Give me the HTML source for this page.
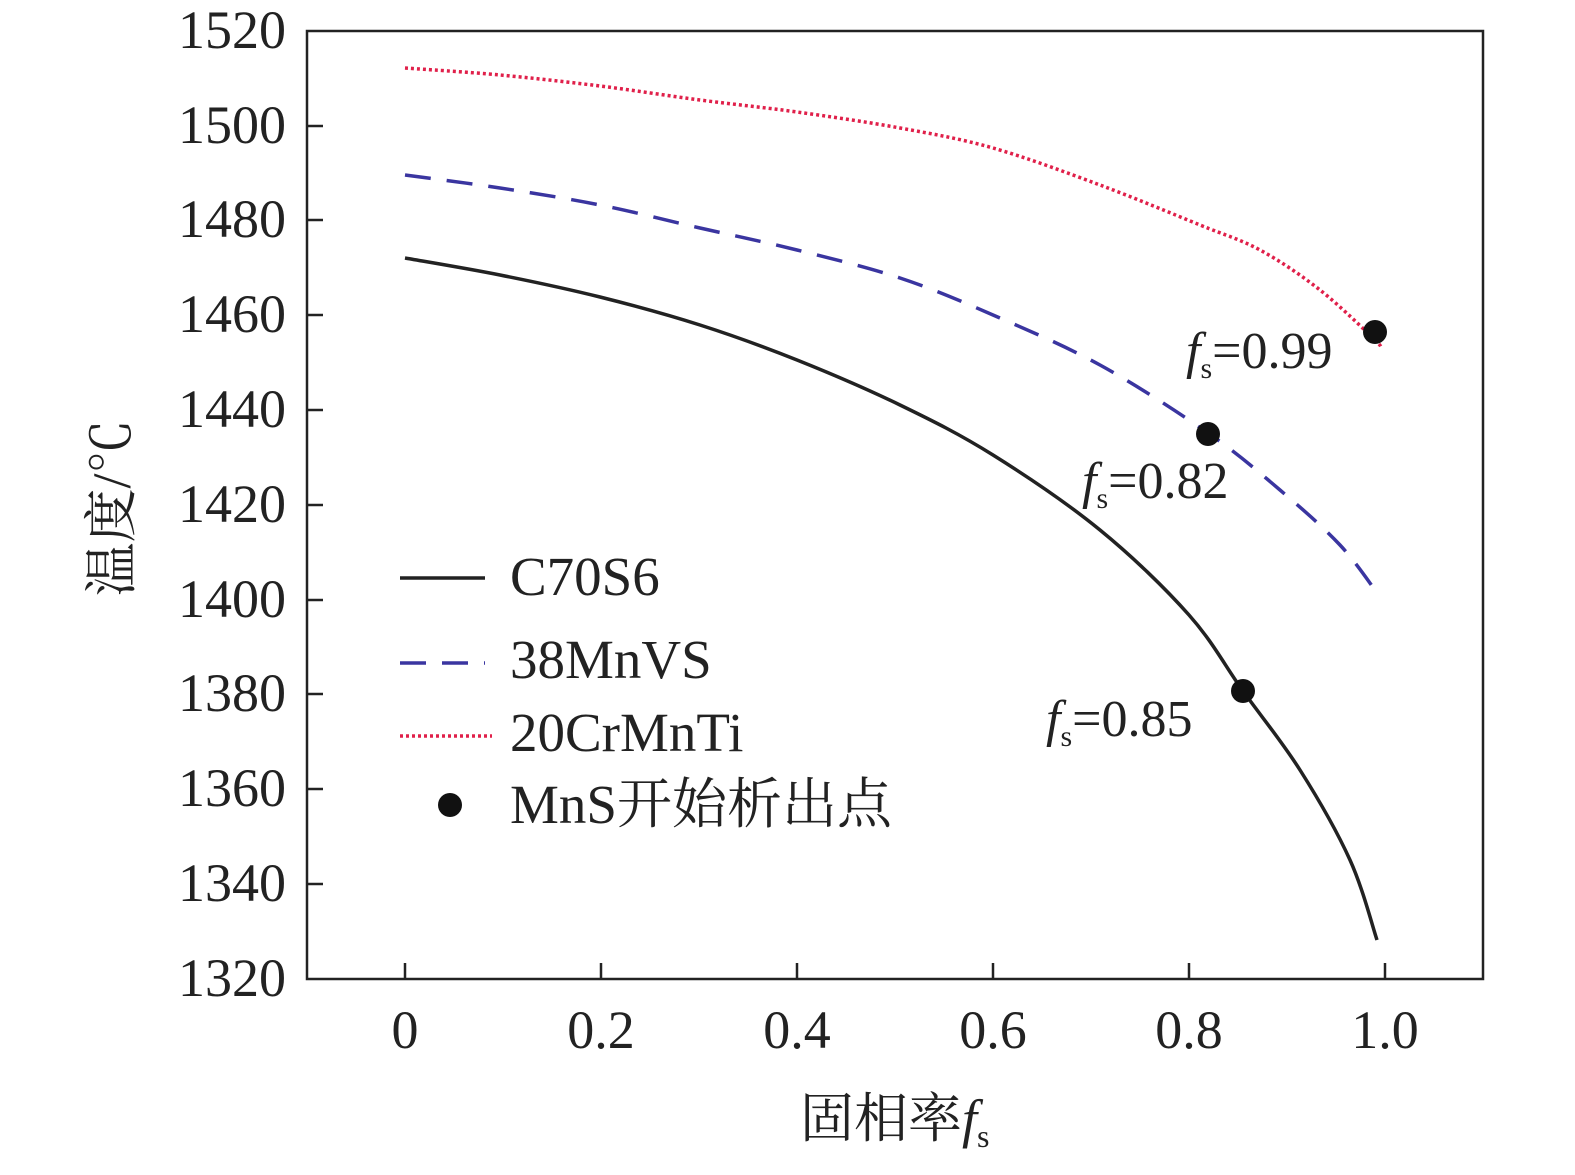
<!DOCTYPE html>
<html><head><meta charset="utf-8"><style>
html,body{margin:0;padding:0;background:#fff;}
svg text{font-family:"Liberation Serif","Noto Serif CJK SC",serif;fill:#222;}
</style></head><body>
<svg width="1575" height="1170" xmlns="http://www.w3.org/2000/svg">
<rect x="307" y="31" width="1176" height="948" fill="none" stroke="#222" stroke-width="2.5"/>
<g stroke="#222" stroke-width="2.5">
<line x1="405" y1="979" x2="405" y2="963"/><line x1="601" y1="979" x2="601" y2="963"/><line x1="797" y1="979" x2="797" y2="963"/><line x1="993" y1="979" x2="993" y2="963"/><line x1="1189" y1="979" x2="1189" y2="963"/><line x1="1385" y1="979" x2="1385" y2="963"/>
<line x1="307" y1="126" x2="323" y2="126"/><line x1="307" y1="220" x2="323" y2="220"/><line x1="307" y1="315" x2="323" y2="315"/><line x1="307" y1="410" x2="323" y2="410"/><line x1="307" y1="505" x2="323" y2="505"/><line x1="307" y1="600" x2="323" y2="600"/><line x1="307" y1="694" x2="323" y2="694"/><line x1="307" y1="789" x2="323" y2="789"/><line x1="307" y1="884" x2="323" y2="884"/>
</g>
<g font-size="54" text-anchor="end">
<text x="286" y="48">1520</text><text x="286" y="143">1500</text><text x="286" y="237">1480</text><text x="286" y="332">1460</text><text x="286" y="427">1440</text><text x="286" y="522">1420</text><text x="286" y="617">1400</text><text x="286" y="711">1380</text><text x="286" y="806">1360</text><text x="286" y="901">1340</text><text x="286" y="996">1320</text>
</g>
<g font-size="54" text-anchor="middle">
<text x="405" y="1048">0</text><text x="601" y="1048">0.2</text><text x="797" y="1048">0.4</text><text x="993" y="1048">0.6</text><text x="1189" y="1048">0.8</text><text x="1385" y="1048">1.0</text>
</g>
<text x="800" y="1137" font-size="54">固相率<tspan font-style="italic">f</tspan><tspan font-size="32" dy="10">s</tspan></text>
<text transform="translate(130,508) rotate(-90)" font-size="54" text-anchor="middle">温度/℃</text>
<path id="pk" fill="none" stroke="#222" stroke-width="3.5"/>
<path id="pb" fill="none" stroke="#3a35a0" stroke-width="3.5" stroke-dasharray="26,16"/>
<path id="pr" fill="none" stroke="#e0204a" stroke-width="3.5" stroke-dasharray="3,3"/>
<circle cx="1375" cy="332" r="12" fill="#111"/>
<circle cx="1208" cy="434" r="12" fill="#111"/>
<circle cx="1243" cy="691" r="12" fill="#111"/>
<g font-size="52">
<text x="1186" y="368"><tspan font-style="italic">f</tspan><tspan font-size="30" dy="10">s</tspan><tspan dy="-10">=0.99</tspan></text>
<text x="1082" y="498"><tspan font-style="italic">f</tspan><tspan font-size="30" dy="10">s</tspan><tspan dy="-10">=0.82</tspan></text>
<text x="1046" y="736"><tspan font-style="italic">f</tspan><tspan font-size="30" dy="10">s</tspan><tspan dy="-10">=0.85</tspan></text>
</g>
<line x1="400" y1="578" x2="485" y2="578" stroke="#222" stroke-width="3.5"/>
<line x1="400" y1="663" x2="485" y2="663" stroke="#3a35a0" stroke-width="3.5" stroke-dasharray="26,16"/>
<line x1="400" y1="736" x2="492" y2="736" stroke="#e0204a" stroke-width="3.5" stroke-dasharray="3,3"/>
<circle cx="450" cy="805" r="12" fill="#111"/>
<g font-size="55">
<text x="510" y="595">C70S6</text>
<text x="510" y="678">38MnVS</text>
<text x="510" y="751">20CrMnTi</text>
<text x="510" y="823">MnS开始析出点</text>
</g>
</svg>
<script>
function cr(p){var d="M"+p[0][0]+","+p[0][1];for(var i=0;i<p.length-1;i++){var a=p[Math.max(i-1,0)],b=p[i],c=p[i+1],e=p[Math.min(i+2,p.length-1)];
d+=" C"+(b[0]+(c[0]-a[0])/6)+","+(b[1]+(c[1]-a[1])/6)+" "+(c[0]-(e[0]-b[0])/6)+","+(c[1]-(e[1]-b[1])/6)+" "+c[0]+","+c[1];}return d;}
document.getElementById("pk").setAttribute("d",cr([[405,258],[500,275],[600,297],[700,325],[797,360],[900,405],[993,455],[1100,530],[1189,615],[1243,691],[1300,770],[1350,860],[1377,940]]));
document.getElementById("pb").setAttribute("d",cr([[405,175],[500,188],[600,205],[700,228],[797,250],[900,278],[993,315],[1100,365],[1208,433],[1280,490],[1340,545],[1380,597]]));
document.getElementById("pr").setAttribute("d",cr([[405,68],[500,75],[600,86],[700,100],[797,112],[900,128],[993,148],[1100,185],[1200,225],[1260,250],[1320,290],[1375,340],[1380,348]]));
</script>
</body></html>
